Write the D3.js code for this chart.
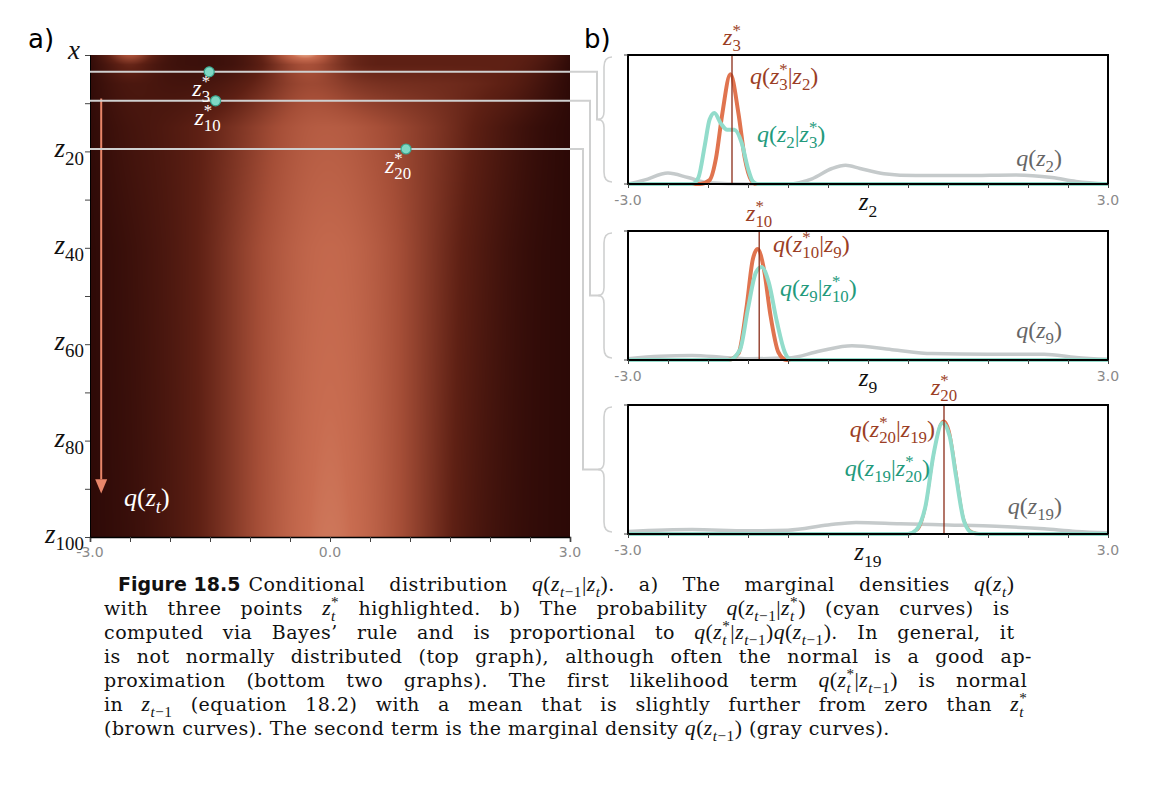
<!DOCTYPE html>
<html><head><meta charset="utf-8">
<script src="https://cdn.jsdelivr.net/npm/d3@7"></script>
<style>body{margin:0;background:#fff}svg{display:block}</style>
</head><body>
<svg id="c" width="1150" height="802"></svg>
<script>
// ---------- DATA ----------
const heatX = d3.range(25).map(i => -3 + i * 0.25);
const heatRowT = [0, 2, 6, 15, 40, 100];
const heatRows = [
 [0.05,0.3,0.8,0.3,0.12,0.1,0.1,0.12,0.2,0.4,0.82,1.0,0.55,0.35,0.3,0.3,0.3,0.3,0.3,0.3,0.3,0.3,0.28,0.2,0.05],
 [0.05,0.2,0.4,0.2,0.12,0.1,0.1,0.12,0.2,0.35,0.55,0.65,0.5,0.35,0.3,0.3,0.3,0.3,0.3,0.3,0.3,0.3,0.25,0.15,0.03],
 [0.04,0.14,0.2,0.18,0.15,0.15,0.17,0.22,0.3,0.4,0.52,0.58,0.54,0.46,0.42,0.4,0.39,0.38,0.37,0.35,0.32,0.28,0.2,0.1,0.02],
 [0.03,0.1,0.15,0.18,0.22,0.27,0.33,0.4,0.48,0.57,0.64,0.69,0.7,0.68,0.63,0.58,0.52,0.46,0.39,0.31,0.23,0.16,0.09,0.04,0.01],
 [0.02,0.06,0.1,0.15,0.2,0.27,0.35,0.45,0.55,0.64,0.71,0.76,0.78,0.76,0.71,0.64,0.55,0.45,0.35,0.26,0.18,0.11,0.06,0.03,0.01],
 [0.02,0.05,0.08,0.13,0.19,0.26,0.35,0.45,0.56,0.66,0.75,0.81,0.83,0.81,0.75,0.66,0.55,0.43,0.31,0.21,0.14,0.09,0.05,0.03,0.01]
];
const heatYTicks = [0,20,40,60,80,100];
const heatYLabels = ["x","z_{20}","z_{40}","z_{60}","z_{80}","z_{100}"];
const xTickLabels = ["-3.0","0.0","3.0"];
const highlightT = [3.5, 9.5, 19.5];
const highlightZ = [-1.51, -1.43, 0.95];
const highlightLabels = ["z_3^*","z_{10}^*","z_{20}^*"];

const brownTop = [[-3,0],[-2.1,0],[-1.98,0.03],[-1.9,0.2],[-1.82,0.55],[-1.72,0.85],[-1.62,0.55],[-1.54,0.2],[-1.46,0.03],[-1.4,0],[3,0]];
const cyanTop = [[-3,0],[-2.2,0],[-2.12,0.05],[-2.04,0.3],[-1.98,0.5],[-1.92,0.55],[-1.84,0.47],[-1.76,0.42],[-1.67,0.42],[-1.58,0.32],[-1.5,0.12],[-1.44,0.02],[-1.38,0],[3,0]];
const grayTop = [[-3,0],[-2.8,0.03],[-2.5,0.085],[-2.25,0.05],[-2.0,0.01],[-1.5,0],[-1.0,0],[-0.7,0.04],[-0.45,0.12],[-0.28,0.145],[-0.1,0.12],[0.2,0.08],[0.6,0.065],[1.2,0.065],[1.85,0.07],[2.3,0.05],[2.6,0.02],[3,0]];
const brownMid = [[-3,0],[-1.75,0],[-1.62,0.05],[-1.52,0.4],[-1.44,0.78],[-1.38,0.86],[-1.3,0.7],[-1.22,0.35],[-1.12,0.06],[-1.02,0],[3,0]];
const cyanMid = [[-3,0],[-1.74,0],[-1.6,0.08],[-1.5,0.4],[-1.4,0.68],[-1.33,0.72],[-1.24,0.6],[-1.14,0.3],[-1.04,0.06],[-0.96,0],[3,0]];
const grayMid = [[-3,0.01],[-2.6,0.03],[-2.2,0.035],[-1.8,0.02],[-1.5,0.01],[-1.0,0.015],[-0.6,0.07],[-0.2,0.11],[0.3,0.08],[0.8,0.05],[1.5,0.045],[2.2,0.045],[2.6,0.02],[3,0.005]];
const brownBot = [[-3,0.005],[0.5,0.005],[0.62,0.03],[0.72,0.2],[0.82,0.6],[0.9,0.85],[0.95,0.88],[1.02,0.8],[1.1,0.5],[1.2,0.12],[1.3,0.02],[1.4,0.005],[3,0.005]];
const cyanBot = [[-3,0],[0.5,0],[0.6,0.03],[0.72,0.22],[0.82,0.62],[0.93,0.86],[1.02,0.76],[1.1,0.45],[1.2,0.1],[1.3,0.01],[1.4,0],[3,0]];
const grayBot = [[-3,0.02],[-2.2,0.035],[-1.5,0.025],[-1.0,0.03],[-0.5,0.07],[-0.15,0.09],[0.4,0.08],[1.0,0.07],[1.6,0.06],[2.2,0.04],[2.6,0.02],[3,0.01]];
const panelMeans = [-1.70, -1.36, 0.95];
const panelStar = ["z_3^*","z_{10}^*","z_{20}^*"];
const panelAxis = ["z_2","z_9","z_{19}"];
const panelLikeLbl = ["q(z_3^*|z_2)","q(z_{10}^*|z_9)","q(z_{20}^*|z_{19})"];
const panelPostLbl = ["q(z_2|z_3^*)","q(z_9|z_{10}^*)","q(z_{19}|z_{20}^*)"];
const panelMargLbl = ["q(z_2)","q(z_9)","q(z_{19})"];
const captionHead = "Figure 18.5";
const caption = [
 "Conditional distribution $q(z_{t−1}|z_t)$.  a) The marginal densities $q(z_t)$",
 "with three points $z_t^*$ highlighted.  b) The probability $q(z_{t−1}|z_t^*)$ (cyan curves) is",
 "computed via Bayes’ rule and is proportional to $q(z_t^*|z_{t−1})q(z_{t−1})$.  In general, it",
 "is not normally distributed (top graph), although often the normal is a good ap-",
 "proximation (bottom two graphs). The first likelihood term $q(z_t^*|z_{t−1})$ is normal",
 "in $z_{t−1}$ (equation 18.2) with a mean that is slightly further from zero than $z_t^*$",
 "(brown curves). The second term is the marginal density $q(z_{t−1})$ (gray curves)."
];

// ---------- HELPERS ----------
const svg = d3.select("#c");
const SERIF = "'DejaVu Serif',serif";
const MATH = "'Liberation Serif','DejaVu Serif',serif";
const SANS = "'DejaVu Sans','Noto Sans',sans-serif";
function mathText(text, s, fs){
  let off = 0, pending = 0;
  function add(t, italic, level, dx, math){
    const target = level===1 ? 0.3*fs : level===-1 ? -0.42*fs : 0;
    const ts = text.append("tspan").text(t).attr("dy", target-off)
      .style("font-style", italic?"italic":"normal").style("font-size", (level?fs*0.72:fs)+"px");
    if (math) ts.style("font-family", MATH).style("font-size", (level?fs*0.8:fs*1.14)+"px");
    const d = (dx||0) + pending; pending = 0;
    if (d) ts.attr("dx", d);
    off = target;
    return ts;
  }
  function runs(str, level, dx){
    let i=0, first=true, w=0;
    while(i<str.length){
      const it = /[a-zA-Z]/.test(str[i]);
      let j=i; while(j<str.length && /[a-zA-Z]/.test(str[j])===it) j++;
      const ts = add(str.slice(i,j), it, level, first?dx:0, true); first=false; i=j;
      w += ts.node().getComputedTextLength();
    }
    return w;
  }
  function readGroup(m,i){
    if(m[i+1]==="{"){ const e=m.indexOf("}",i); return [m.slice(i+2,e), e+1]; }
    return [m[i+1], i+2];
  }
  function parseMath(m){
    let i=0;
    while(i<m.length){
      const c=m[i];
      if(c==="_"||c==="^"){
        let [g,ni] = readGroup(m,i);
        const level = c==="_"?1:-1;
        if(m[ni]==="_"||m[ni]==="^"){
          const [g2,ni2] = readGroup(m,ni);
          const w1 = runs(g, level, 0);
          const w2 = runs(g2, -level, -w1);
          pending = Math.max(0, w1-w2);
          i = ni2;
        } else { runs(g, level, 0); i = ni; }
      } else {
        let j=i; while(j<m.length && m[j]!=="_" && m[j]!=="^") j++;
        runs(m.slice(i,j), 0, 0); i=j;
      }
    }
  }
  s.split("$").forEach((p,k)=>{ if(!p) return; if(k%2===0) add(p,false,0,0,false); else parseMath(p); });
  return text;
}
function mtext(g, s, x, y, fs, color, anchor){
  const t = g.append("text").attr("x",x).attr("y",y).attr("fill",color)
    .attr("font-family",MATH).attr("font-size",fs).attr("text-anchor",anchor||"start");
  return mathText(t, "$"+s+"$", fs/1.14);
}

// ---------- PANEL A ----------
const ax = d3.scaleLinear().domain([-3,3]).range([90,570]);
const ay = d3.scaleLinear().domain([0,100]).range([55,537]);
const W = 480, H = 482;
const cv = document.createElement("canvas"); cv.width=W; cv.height=H;
const ctx = cv.getContext("2d"); const img = ctx.createImageData(W,H);
const color = d3.scaleLinear().domain([0,0.3,0.6,0.8,1])
  .range(["#2a0806","#5e2014","#a54e37","#c86c50","#f6c6a6"]);
const rowInterp = heatRows.map(r => d3.interpolateBasis(r));
for(let py=0; py<H; py++){
  const t = ay.invert(55+py+0.5);
  let k = d3.bisectRight(heatRowT, t)-1; k = Math.max(0, Math.min(heatRowT.length-2, k));
  const f = (t-heatRowT[k])/(heatRowT[k+1]-heatRowT[k]);
  for(let px=0; px<W; px++){
    const u = (ax.invert(90+px+0.5)+3)/6;
    const v = rowInterp[k](u)*(1-f) + rowInterp[k+1](u)*f;
    const c = d3.rgb(color(Math.max(0,Math.min(1,v))));
    const o = (py*W+px)*4; img.data[o]=c.r; img.data[o+1]=c.g; img.data[o+2]=c.b; img.data[o+3]=255;
  }
}
ctx.putImageData(img,0,0);
svg.append("image").attr("x",90).attr("y",55).attr("width",W).attr("height",H).attr("href",cv.toDataURL());

const ga = svg.append("g");
ga.append("g").attr("transform","translate(0,537)")
  .call(d3.axisBottom(ax).tickValues(d3.range(-3,3.01,0.5)).tickSize(5).tickFormat(""))
  .call(g=>{g.select(".domain").attr("stroke","#000").attr("stroke-width",1.5);g.selectAll("line").attr("stroke","#444");});
xTickLabels.forEach((l,i)=> ga.append("text").attr("x",ax([-3,0,3][i])).attr("y",557).attr("text-anchor","middle")
  .attr("font-family",SANS).attr("font-size",14).attr("fill","#8a8a8a").text(l));
ga.append("g").attr("transform","translate(90,0)")
  .call(d3.axisLeft(ay).tickValues(d3.range(0,101,10)).tickSize(5).tickFormat(""))
  .call(g=>{g.select(".domain").attr("stroke","#000");g.selectAll("line").attr("stroke","#444");});
heatYTicks.forEach((t,i)=> mtext(ga, heatYLabels[i], i===0?80:84, ay(t)+(i===0?4:6), 27, "#111", "end"));
const arrowX = ax(-2.86);
ga.append("line").attr("x1",arrowX).attr("x2",arrowX).attr("y1",ay(9)).attr("y2",ay(88)).attr("stroke","#e8866a").attr("stroke-width",2);
ga.append("path").attr("d",`M${arrowX-6},${ay(88)} L${arrowX+6},${ay(88)} L${arrowX},${ay(91)} Z`).attr("fill","#e8866a");
mtext(ga, "q(z_t)", 124, ay(93.5), 26, "#fff");
const panelTop = [55,231,405], panelH = 129;
const connX = [597,590,583];
highlightT.forEach((t,i)=>{
  const y = ay(t), yM = panelTop[i]+panelH/2;
  ga.append("path").attr("d",`M90,${y} H${connX[i]} V${yM} H600`).attr("fill","none").attr("stroke","#cfd0d0").attr("stroke-width",2);
});
highlightT.forEach((t,i)=>{
  ga.append("circle").attr("cx",ax(highlightZ[i])).attr("cy",ay(t)).attr("r",5).attr("fill","#7fd8c4").attr("stroke","#3aa58e").attr("stroke-width",1.2);
  mtext(ga, highlightLabels[i], ax(highlightZ[i])-8, ay(t)+24, 24, "#fff", "middle");
});
svg.append("text").attr("x",28).attr("y",48).attr("font-family",SANS).attr("font-size",26).text("a)");

// ---------- PANEL B ----------
svg.append("text").attr("x",584).attr("y",48).attr("font-family",SANS).attr("font-size",26).text("b)");
const bx = d3.scaleLinear().domain([-3,3]).range([628,1108]);
const panels = [
 {b:brownTop,c:cyanTop,g:grayTop},{b:brownMid,c:cyanMid,g:grayMid},{b:brownBot,c:cyanBot,g:grayBot}
];
const likeLblPos = [[750,84,"start"],[773,252,"start"],[935,437,"end"]];
const postLblPos = [[757,142,"start"],[780,296,"start"],[930,476,"end"]];
const margLblPos = [[1062,166,"end"],[1062,338,"end"],[1062,514,"end"]];
panels.forEach((p,i)=>{
  const top = panelTop[i], bot = top+panelH;
  const by = d3.scaleLinear().domain([0,1]).range([bot,top]);
  const g = svg.append("g");
  const yM = top+panelH/2;
  g.append("path").attr("d",`M612,${top+2} Q604,${top+2} 604,${top+12} L604,${yM-8} Q604,${yM} 598,${yM} Q604,${yM} 604,${yM+8} L604,${bot-12} Q604,${bot-2} 612,${bot-2}`)
    .attr("fill","none").attr("stroke","#cfd0d0").attr("stroke-width",1.6);
  const line = d3.line().x(d=>bx(d[0])).y(d=>by(d[1])).curve(d3.curveMonotoneX);
  g.append("path").attr("d",line(p.g)).attr("fill","none").attr("stroke","#c5cacb").attr("stroke-width",3.5);
  g.append("path").attr("d",line(p.b)).attr("fill","none").attr("stroke","#e0744f").attr("stroke-width",i===2?2:4);
  g.append("path").attr("d",line(p.c)).attr("fill","none").attr("stroke","#92dccb").attr("stroke-width",4);
  g.append("line").attr("x1",bx(panelMeans[i])).attr("x2",bx(panelMeans[i])).attr("y1",top).attr("y2",bot).attr("stroke","#8a2c18").attr("stroke-width",1.3);
  g.append("rect").attr("x",628).attr("y",top).attr("width",480).attr("height",panelH).attr("fill","none").attr("stroke","#000").attr("stroke-width",2);
  g.append("g").attr("transform",`translate(0,${bot})`)
    .call(d3.axisBottom(bx).tickValues(d3.range(-3,3.01,0.5)).tickSize(4).tickFormat(""))
    .call(s=>{s.select(".domain").remove();s.selectAll("line").attr("stroke","#444");});
  g.append("line").attr("x1",624).attr("x2",628).attr("y1",top).attr("y2",top).attr("stroke","#444");
  g.append("line").attr("x1",624).attr("x2",628).attr("y1",bot).attr("y2",bot).attr("stroke","#444");
  [["-3.0",bx(-3)],["3.0",bx(3)]].forEach(d=> g.append("text").attr("x",d[1]).attr("y",bot+21).attr("text-anchor","middle")
    .attr("font-family",SANS).attr("font-size",14).attr("fill","#8a8a8a").text(d[0]));
  mtext(g, panelAxis[i], 868, bot+26, 25, "#111", "middle");
  mtext(g, panelStar[i], bx(panelMeans[i]), top-10, 24, "#9b3e25", "middle");
  mtext(g, panelLikeLbl[i], likeLblPos[i][0], likeLblPos[i][1], 24, "#9b3e25", likeLblPos[i][2]);
  mtext(g, panelPostLbl[i], postLblPos[i][0], postLblPos[i][1], 24, "#239a7c", postLblPos[i][2]);
  mtext(g, panelMargLbl[i], margLblPos[i][0], margLblPos[i][1], 24, "#666", margLblPos[i][2]);
});

// ---------- CAPTION ----------
const cap = svg.append("g");
const head = cap.append("text").attr("x",118).attr("y",591).attr("font-family",SANS).attr("font-weight","bold").attr("font-size",19).attr("fill","#111").text(captionHead);
const headEnd = 118 + head.node().getComputedTextLength() + 8;
caption.forEach((l,i)=>{
  const x = i===0 ? headEnd : 104, y = 591 + i*24;
  const t = cap.append("text").attr("x",x).attr("y",y).attr("font-family",SERIF).attr("font-size",19)
    .attr("letter-spacing",0.5).attr("fill","#111");
  mathText(t, l, 19);
  if(i<6){
    const w = t.node().getComputedTextLength();
    const spaces = (l.replace(/\$[^$]*\$/g,"M").match(/ /g)||[]).length;
    t.attr("word-spacing", ((1032-x)-w)/spaces);
  }
});
</script>
</body></html>
